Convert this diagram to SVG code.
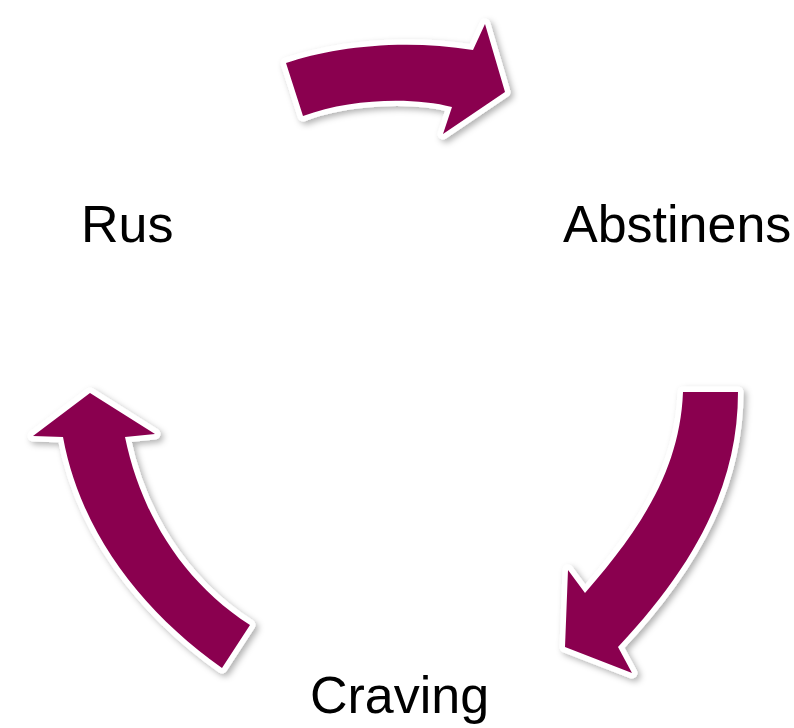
<svg xmlns="http://www.w3.org/2000/svg" width="794" height="728" viewBox="0 0 794 728">
<style>
.arrow{fill:#8a0050;stroke:#ffffff;stroke-width:11;stroke-linejoin:round;paint-order:stroke;filter:url(#sh)}
.lbl{font-family:"Liberation Sans",Arial,sans-serif;font-size:52px;fill:#000000}
</style>
<defs>
<filter id="sh" x="-20%" y="-20%" width="140%" height="140%">
<feDropShadow dx="3" dy="3" stdDeviation="3" flood-color="#000000" flood-opacity="0.3"/>
</filter>
</defs>
<rect width="794" height="728" fill="#ffffff"/>
<g id="connectors">
<path class="arrow" d="M 286 63 C 330 48 400 38 473 50 L 485 24 L 505 92 L 443 134 L 452 107 C 415 97 350 98 303 116 Z"/>
<path class="arrow" d="M 683 392 L 738 392 C 738 480 700 560 618 647 L 632 673 L 565 647 L 568 570 L 585 593 C 640 530 680 470 683 392 Z"/>
<path class="arrow" d="M 90 393 L 155 434 L 125 437 C 140 510 180 580 250 625 L 222 668 C 140 610 80 530 63 437 L 33 436 Z"/>
</g>
<g id="rus"><text class="lbl" x="81" y="242">Rus</text></g>
<g id="abstinens"><text class="lbl" x="563" y="242">Abstinens</text></g>
<g id="craving"><text class="lbl" x="310" y="713">Craving</text></g>
</svg>
